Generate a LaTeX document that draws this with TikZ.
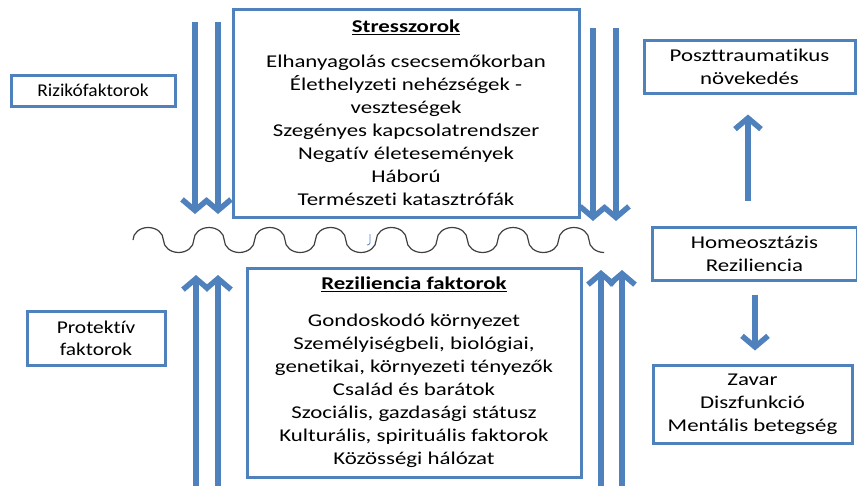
\documentclass[tikz,border=0pt]{standalone}
\usepackage{fontspec}
\setmainfont{Carlito}[FakeStretch=1.27, Ligatures=NoCommon]
\newfontfamily\rizfont{Carlito}[FakeStretch=1.08, Ligatures=NoCommon]
\newfontfamily\protfont{Carlito}[FakeStretch=1.19, Ligatures=NoCommon]
\usetikzlibrary{arrows.meta}
\definecolor{ofblue}{HTML}{4F81BD}
\definecolor{wavegray}{HTML}{404040}
\tikzset{
  box/.style={draw=ofblue, line width=3pt, align=center, inner sep=0pt,
    font=\fontsize{18}{23}\selectfont},
  flow/.style={draw=ofblue, line width=5.5pt,
    -{Straight Barb[length=11pt,width=26pt]}},
  wave/.style={draw=wavegray, line width=1.2pt},
}
\begin{document}
\begin{tikzpicture}[x=1pt,y=-1pt]
\useasboundingbox (0,0) rectangle (857,485);

% central boxes
\node[box, minimum width=346pt, minimum height=208pt] (stress) at (406,113)
  {\underline{\textbf{Stresszorok}}\\[12pt]
   Elhanyagolás csecsemőkorban\\
   Élethelyzeti nehézségek -\\
   veszteségek\\
   Szegényes kapcsolatrendszer\\
   Negatív életesemények\\
   Háború\\
   Természeti katasztrófák};
\node[box, minimum width=334pt, minimum height=209pt] (rez) at (414,372.5)
  {\underline{\textbf{Reziliencia faktorok}}\\[14pt]
   Gondoskodó környezet\\
   Személyiségbeli, biológiai,\\
   genetikai, környezeti tényezők\\
   Család és barátok\\
   Szociális, gazdasági státusz\\
   Kulturális, spirituális faktorok\\
   Közösségi hálózat};

% side labels
\node[box, minimum width=164pt, minimum height=31pt, font=\fontsize{18}{22}\selectfont\rizfont]
  (riziko) at (93,90.5) {Rizikófaktorok};
\node[box, minimum width=138pt, minimum height=54pt, font=\fontsize{18}{22}\selectfont\protfont]
  (protekt) at (96,338) {Protektív\\faktorok};

% outcome column
\node[box, minimum width=211pt, minimum height=53pt] (poszt) at (749.5,66.5) {Poszttraumatikus\\növekedés};
\node[box, minimum width=205pt, minimum height=53pt] (homeo) at (754.5,253.5) {Homeosztázis\\Reziliencia};
\node[box, minimum width=199pt, minimum height=78pt] (zavar) at (752.5,404) {Zavar\\Diszfunkció\\Mentális betegség};

% wavy balance line
\draw[wave] (133,240)
  \foreach \i in {1,...,7} {
    arc[start angle=180, end angle=360, x radius=15.2, y radius=12.5]
    arc[start angle=180, end angle=0, x radius=15.2, y radius=12.5]
  }
  arc[start angle=180, end angle=360, x radius=15.2, y radius=12.5]
  arc[start angle=180, end angle=90, x radius=15.2, y radius=12.5];
\draw[ofblue, line width=0.8pt] (370,234) -- (370,243) to[bend left=40] (367,245);

% stressor arrows pressing down
\coordinate (a1s) at (195,22);  \coordinate (a1e) at (195,214);
\coordinate (a2s) at (218,22);  \coordinate (a2e) at (218,214);
\coordinate (a3s) at (593,28);  \coordinate (a3e) at (593,221);
\coordinate (a4s) at (616,28);  \coordinate (a4e) at (616,221);
\draw[flow] (a1s) -- (a1e);
\draw[flow] (a2s) -- (a2e);
\draw[flow] (a3s) -- (a3e);
\draw[flow] (a4s) -- (a4e);

% resilience arrows pushing up
\coordinate (b1s) at (196,490); \coordinate (b1e) at (196,275);
\coordinate (b2s) at (218,490); \coordinate (b2e) at (218,275);
\coordinate (b3s) at (601,490); \coordinate (b3e) at (601,270);
\coordinate (b4s) at (622,490); \coordinate (b4e) at (622,270);
\draw[flow] (b1s) -- (b1e);
\draw[flow] (b2s) -- (b2e);
\draw[flow] (b3s) -- (b3e);
\draw[flow] (b4s) -- (b4e);

% outcome arrows
\coordinate (upx) at (748,0);
\coordinate (dnx) at (755,0);
\draw[flow, shorten <=25pt, shorten >=20pt] (homeo.north -| upx) -- (poszt.south -| upx);
\draw[flow, shorten <=13pt, shorten >=13pt] (homeo.south -| dnx) -- (zavar.north -| dnx);
\end{tikzpicture}
\end{document}
